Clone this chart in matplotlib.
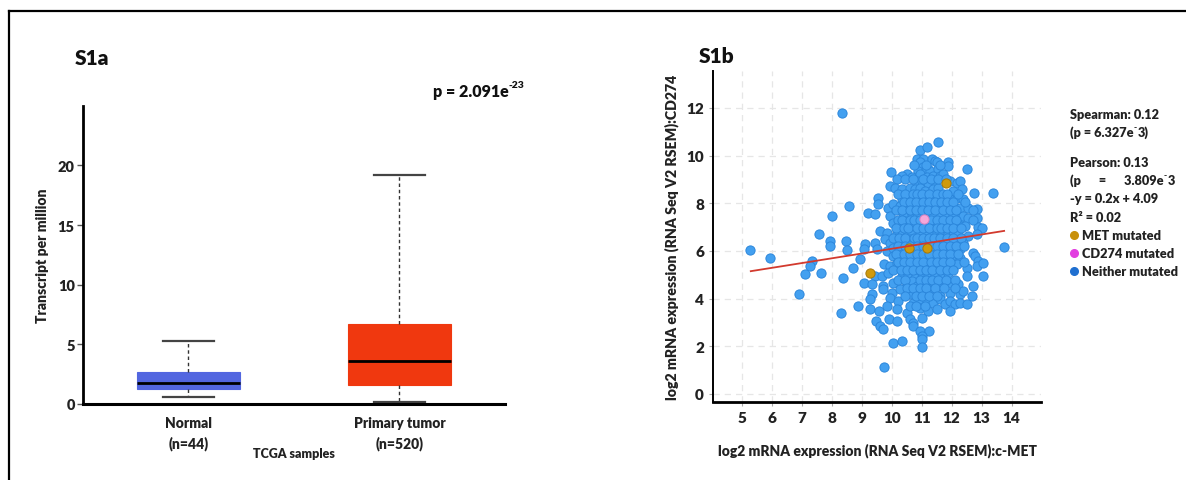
"""Supplementary figure S1: CD274 / c-MET expression panels."""

import matplotlib

matplotlib.use("Agg")
import matplotlib.pyplot as plt
import numpy as np
from matplotlib.lines import Line2D

# ---- S1a: box plot summary (transcripts per million) ----
groups = ["Normal\n(n=44)", "Primary tumor\n(n=520)"]
box_low = [0.61, 0.14]
box_q1 = [1.26, 1.62]
box_med = [1.73, 3.57]
box_q3 = [2.65, 6.69]
box_high = [5.25, 19.19]
box_colors = ["#5266e0", "#f0380f"]

# ---- S1b: c-MET (x) vs CD274 (y), log2 RSEM ----
neither_pts = [
    (11.56, 10.59), (10.94, 10.24), (11.17, 10.34),
    (10.83, 9.85), (11.03, 9.85), (10.94, 9.71), (11.33, 9.85), (11.44, 9.78), (11.50, 9.71), (11.89, 9.71),
    (11.06, 9.50), (11.22, 9.43), (10.89, 9.36), (11.11, 9.29), (11.87, 9.57), (12.50, 9.45), (11.28, 9.36),
    (11.56, 9.43),
    (9.97, 9.29), (10.50, 9.22), (10.33, 9.15), (10.67, 9.08), (10.94, 9.22), (11.17, 9.08), (11.39, 9.15),
    (11.61, 9.15), (11.72, 9.22),
    (10.17, 9.01), (10.83, 8.94), (11.00, 8.94), (11.22, 8.87), (11.44, 8.94), (11.94, 8.94), (12.17, 8.87),
    (12.28, 8.94),
    (9.94, 8.73), (10.11, 8.66), (10.33, 8.59), (10.61, 8.66), (10.78, 8.59), (10.94, 8.66), (11.11, 8.52),
    (11.39, 8.59), (11.56, 8.66), (12.06, 8.52), (12.33, 8.59), (12.74, 8.45), (13.39, 8.45),
    (9.56, 8.24), (10.33, 8.17), (10.50, 8.31), (10.67, 8.24), (10.83, 8.17), (10.94, 8.31), (11.17, 8.24),
    (11.33, 8.17), (11.50, 8.31), (11.72, 8.24), (11.94, 8.17), (12.17, 8.24), (12.39, 8.17),
    (8.56, 7.89), (9.56, 7.96), (9.89, 7.82), (10.06, 7.96), (10.28, 7.89), (10.57, 7.82), (10.72, 7.96),
    (10.94, 7.89), (11.11, 7.82), (11.33, 7.96), (11.50, 7.89), (11.61, 7.82), (11.83, 7.96), (12.06, 7.89),
    (12.28, 7.82), (12.56, 7.82), (12.83, 7.75),
    (8.02, 7.47), (9.22, 7.61), (9.44, 7.54), (9.94, 7.47), (10.39, 7.61), (10.50, 7.47), (10.67, 7.54),
    (10.83, 7.61), (11.22, 7.54), (11.39, 7.47), (11.61, 7.61), (11.83, 7.54), (12.06, 7.47), (12.28, 7.40),
    (12.39, 7.47), (12.56, 7.40), (12.83, 7.40),
    (10.06, 7.19), (10.28, 7.12), (10.44, 7.26), (10.61, 7.05), (10.78, 7.19), (10.94, 7.12), (11.17, 7.26),
    (11.39, 7.05), (11.56, 7.19), (11.72, 7.12), (11.94, 7.05), (12.17, 7.19), (12.44, 7.05), (12.89, 7.00),
    (13.00, 6.98),
    (7.58, 6.70), (9.61, 6.84), (9.83, 6.77), (10.17, 6.70), (10.33, 6.84), (10.50, 6.63), (10.67, 6.77),
    (10.94, 6.70), (11.17, 6.84), (11.33, 6.63), (11.50, 6.77), (11.67, 6.70), (11.83, 6.63), (12.06, 6.84),
    (12.22, 6.70), (12.56, 6.63), (12.83, 6.70),
    (7.94, 6.42), (8.47, 6.42), (9.11, 6.28), (9.44, 6.35), (9.78, 6.49), (9.94, 6.35), (10.17, 6.42),
    (10.39, 6.28), (10.61, 6.49), (10.83, 6.35), (11.06, 6.42), (11.28, 6.28), (11.50, 6.49), (11.72, 6.35),
    (11.94, 6.42), (12.17, 6.28), (12.39, 6.35),
    (5.28, 6.04), (5.94, 5.72), (7.94, 6.21), (8.50, 6.04), (9.06, 6.07), (9.50, 6.07), (9.83, 6.00),
    (10.06, 6.14), (10.28, 5.93), (10.72, 6.00), (10.94, 5.93), (11.39, 6.07), (11.61, 5.93), (11.83, 6.14),
    (12.06, 5.93), (12.28, 6.07), (12.72, 5.93), (13.74, 6.18),
    (7.33, 5.58), (8.94, 5.65), (10.06, 5.79), (10.28, 5.65), (10.50, 5.72), (10.72, 5.58), (10.94, 5.79),
    (11.17, 5.65), (11.39, 5.72), (11.61, 5.58), (11.83, 5.79), (12.06, 5.65), (12.28, 5.72), (12.78, 5.79),
    (12.89, 5.58),
    (7.26, 5.35), (8.70, 5.30), (9.76, 5.44), (9.94, 5.37), (10.17, 5.51), (10.39, 5.30), (10.61, 5.44),
    (10.83, 5.37), (11.06, 5.51), (11.28, 5.30), (11.50, 5.44), (11.72, 5.37), (11.94, 5.30), (12.17, 5.44),
    (12.50, 5.30), (12.83, 5.37), (13.06, 5.48),
    (7.11, 5.02), (7.64, 5.09), (8.39, 4.88), (9.44, 4.95), (9.67, 4.95), (9.89, 5.09), (10.33, 4.95),
    (10.56, 5.02), (10.78, 4.88), (11.00, 5.09), (11.22, 4.95), (11.44, 5.02), (11.67, 4.88), (11.89, 5.09),
    (12.50, 4.95), (13.06, 4.95),
    (9.08, 4.67), (9.33, 4.60), (9.72, 4.53), (10.06, 4.67), (10.50, 4.60), (10.67, 4.74), (10.83, 4.53),
    (11.06, 4.67), (11.28, 4.60), (11.56, 4.53), (11.94, 4.67), (12.22, 4.60), (12.72, 4.53),
    (6.92, 4.20), (9.33, 4.18), (9.72, 4.39), (10.00, 4.25), (10.28, 4.39), (10.61, 4.18), (10.83, 4.32),
    (11.06, 4.25), (11.28, 4.39), (11.61, 4.11), (11.94, 4.25), (12.28, 4.18), (12.39, 4.32), (12.67, 4.11),
    (9.28, 3.97), (9.94, 4.04), (10.22, 3.90), (10.72, 3.83), (10.94, 3.97), (11.17, 3.90), (11.39, 3.83),
    (11.61, 3.97), (11.78, 3.76), (11.94, 3.90), (12.11, 3.76), (12.28, 3.83), (12.50, 3.76),
    (8.31, 3.41), (8.87, 3.69), (9.28, 3.55), (9.59, 3.48), (9.83, 3.69), (10.17, 3.55), (10.50, 3.41),
    (10.94, 3.62), (11.22, 3.48), (11.50, 3.55), (11.94, 3.48),
    (9.47, 3.06), (9.92, 3.13), (10.17, 3.06), (10.61, 3.13), (10.72, 2.99), (11.00, 3.20),
    (9.61, 2.85), (9.70, 2.71), (10.72, 2.85), (10.94, 2.64), (11.24, 2.64),
    (10.06, 2.15), (10.33, 2.22), (11.00, 2.43), (11.02, 2.29), (11.00, 1.99), (9.76, 1.15), (8.35, 11.80),
    # dense core, overlapping points
    (10.75, 9.60), (11.15, 9.60), (11.60, 9.60),
    (10.45, 9.00), (10.70, 9.00), (11.05, 9.00), (11.30, 9.00), (11.55, 9.00), (11.80, 9.00),
    (10.20, 8.40), (10.45, 8.40), (10.70, 8.40), (10.85, 8.40), (11.00, 8.40), (11.25, 8.40), (11.50, 8.40),
    (11.70, 8.40), (11.85, 8.40), (12.20, 8.40),
    (10.40, 8.05), (10.60, 8.05), (10.80, 8.05), (11.05, 8.05), (11.25, 8.05), (11.45, 8.05), (11.65, 8.05),
    (11.85, 8.05), (12.05, 8.05), (12.45, 8.05),
    (10.15, 7.70), (10.35, 7.70), (10.60, 7.70), (10.80, 7.70), (11.00, 7.70), (11.20, 7.70), (11.45, 7.70),
    (11.70, 7.70), (11.95, 7.70), (12.15, 7.70), (12.70, 7.70),
    (10.20, 7.30), (10.35, 7.30), (10.60, 7.30), (10.75, 7.30), (10.95, 7.30), (11.30, 7.30), (11.50, 7.30),
    (11.70, 7.30), (11.95, 7.30), (12.15, 7.30), (12.70, 7.30),
    (10.15, 6.95), (10.40, 6.95), (10.55, 6.95), (10.85, 6.95), (11.05, 6.95), (11.25, 6.95), (11.50, 6.95),
    (11.65, 6.95), (11.85, 6.95), (12.05, 6.95), (12.30, 6.95),
    (10.05, 6.55), (10.25, 6.55), (10.45, 6.55), (10.75, 6.55), (10.85, 6.55), (11.05, 6.55), (11.25, 6.55),
    (11.40, 6.55), (11.60, 6.55), (11.85, 6.55), (12.05, 6.55), (12.30, 6.55),
    (10.20, 6.20), (10.45, 6.20), (10.60, 6.20), (10.85, 6.20), (11.05, 6.20), (11.30, 6.20), (11.50, 6.20),
    (11.70, 6.20), (11.95, 6.20), (12.15, 6.20), (12.40, 6.20),
    (10.15, 5.85), (10.40, 5.85), (10.60, 5.85), (10.85, 5.85), (11.05, 5.85), (11.25, 5.85), (11.50, 5.85),
    (11.70, 5.85), (11.95, 5.85), (12.20, 5.85),
    (10.20, 5.55), (10.40, 5.55), (10.60, 5.55), (10.85, 5.55), (11.05, 5.55), (11.30, 5.55), (11.50, 5.55),
    (11.70, 5.55), (11.95, 5.55), (12.40, 5.55),
    (10.05, 5.20), (10.30, 5.20), (10.50, 5.20), (10.70, 5.20), (10.95, 5.20), (11.15, 5.20), (11.35, 5.20),
    (11.60, 5.20), (11.85, 5.20), (12.05, 5.20),
    (10.20, 4.80), (10.45, 4.80), (10.95, 4.80), (11.15, 4.80), (11.35, 4.80), (11.55, 4.80), (11.80, 4.80),
    (12.10, 4.80),
    (10.50, 4.45), (10.70, 4.45), (10.95, 4.45), (11.15, 4.45), (11.45, 4.45), (11.75, 4.45), (12.10, 4.45),
    (10.45, 4.10), (10.80, 4.10), (11.00, 4.10), (11.25, 4.10), (11.50, 4.10),
    (10.60, 3.70), (10.80, 3.70), (11.10, 3.70),
]
met_mutated_x = [9.27, 10.57, 11.19, 11.82]
met_mutated_y = [5.09, 6.11, 6.11, 8.83]
cd274_mutated_x = [11.08]
cd274_mutated_y = [7.36]
fit_slope, fit_intercept = 0.2, 4.09
fit_range = [5.3, 13.75]

spearman_lines = ["Spearman: 0.12", "(p = 6.327e", "3)"]
pearson_lines = ["Pearson: 0.13", "(p      =      3.809e", "3", "-y = 0.2x + 4.09", "R\u00b2 = 0.02"]
legend_names = ["MET mutated", "CD274 mutated", "Neither mutated"]
legend_colors = ["#c8900a", "#e23ee0", "#1f6fd0"]

FONT = "Lato"
TXT = "#222222"
WEIGHT = "heavy"

plt.rcParams.update(
    {
        "font.family": [FONT, "DejaVu Sans"],
        "font.weight": WEIGHT,
        "axes.labelweight": WEIGHT,
        "text.color": TXT,
        "axes.labelcolor": TXT,
        "xtick.color": TXT,
        "ytick.color": TXT,
    }
)

fig = plt.figure(figsize=(11.86, 4.81), dpi=100)
W, H = 1186, 481


def px(x0, y0, x1, y1):
    return [x0 / W, 1 - y1 / H, (x1 - x0) / W, (y1 - y0) / H]


def fy(y):
    return 1 - y / H


# outer frame (only top and left edges are visible)
fig.add_artist(Line2D([9 / W, 1.0], [fy(12), fy(12)], color="black", lw=1.6))
fig.add_artist(Line2D([9 / W, 9 / W], [0, fy(12)], color="black", lw=1.6))

# ---------------- S1a ----------------
ax1 = fig.add_axes(px(83, 106.7, 505, 405))
stats = [
    {"whislo": lo, "q1": q1, "med": m, "q3": q3, "whishi": hi, "label": g}
    for g, lo, q1, m, q3, hi in zip(groups, box_low, box_q1, box_med, box_q3, box_high)
]
bp = ax1.bxp(
    stats,
    positions=[1, 2],
    widths=0.49,
    capwidths=0.24,
    showfliers=False,
    patch_artist=True,
    medianprops={"color": "black", "lw": 2.0},
    whiskerprops={"color": "#333333", "lw": 1.0, "linestyle": (0, (2.5, 2))},
    capprops={"color": "#444444", "lw": 1.6},
)
for patch, c in zip(bp["boxes"], box_colors):
    patch.set_facecolor(c)
    patch.set_edgecolor(c)
    patch.set_linewidth(0.8)

ax1.set_xlim(0.5, 2.5)
ax1.set_ylim(0, 25)
ax1.set_yticks([0, 5, 10, 15, 20])
for side in ("top", "right"):
    ax1.spines[side].set_visible(False)
ax1.spines["left"].set_linewidth(2.0)
ax1.spines["bottom"].set_linewidth(2.2)
ax1.tick_params(axis="y", length=4, width=1, labelsize=10.5, color="#555555", pad=2)
ax1.tick_params(axis="x", length=0, labelsize=10, pad=9)
for lab in ax1.get_xticklabels():
    lab.set_linespacing(1.5)
ax1.set_ylabel("Transcript per million", fontsize=10, labelpad=6)
ax1.text(0.5, -0.165, "TCGA samples", transform=ax1.transAxes, ha="center", va="center", fontsize=9)
ptxt = ax1.text(2.157, 26.25, "p = 2.091e", ha="left", va="center", fontsize=11.5, color="#111111")
ax1.annotate("-23", xy=(1.0, 0.92), xycoords=ptxt, ha="left", va="center", fontsize=7.5, color="#111111")
ax1.text(-0.02, 1.16, "S1a", transform=ax1.transAxes, fontsize=15, color="#111111", ha="left", va="center")

# ---------------- S1b ----------------
ax2 = fig.add_axes(px(713, 71.7, 1041, 403.3))
pts = np.array(neither_pts)
ax2.scatter(pts[:, 0], pts[:, 1], s=44, facecolor="#43a0f0", edgecolor="#2c87dc", linewidth=0.7, zorder=3)
ax2.scatter(met_mutated_x, met_mutated_y, s=44, facecolor="#d09a0c", edgecolor="#a67808", linewidth=0.7, zorder=4)
ax2.scatter(cd274_mutated_x, cd274_mutated_y, s=44, facecolor="#f5a7da", edgecolor="#d983c0", linewidth=0.7,
            zorder=4)
fx = np.array(fit_range)
ax2.plot(fx, fit_slope * fx + fit_intercept, color="#d23a2e", lw=1.3, zorder=5)

ax2.set_xlim(4.04, 14.98)
ax2.set_ylim(-0.35, 13.56)
ax2.set_xticks(range(5, 15))
ax2.set_yticks(range(0, 13, 2))
ax2.grid(True, color="#e6e6e6", linestyle=(0, (5, 4)), lw=0.9, zorder=0)
for side in ("top", "right"):
    ax2.spines[side].set_visible(False)
ax2.spines["left"].set_linewidth(1.4)
ax2.spines["bottom"].set_linewidth(2.0)
ax2.tick_params(axis="both", length=3, width=0.8, color="#aaaaaa", labelsize=11, labelcolor="#222222")
ax2.set_xlabel("log2 mRNA expression (RNA Seq V2 RSEM):c-MET", fontsize=10, labelpad=13)
ax2.set_ylabel("log2 mRNA expression (RNA Seq V2 RSEM):CD274", fontsize=10.2, labelpad=5)
ax2.text(-0.045, 1.045, "S1b", transform=ax2.transAxes, fontsize=15, color="#111111", ha="left", va="center")

# ---- right-hand statistics / legend ----
x0 = 1070 / W
fs = 9.2


def sup_tail(base, tail):
    # tiny raised minus sign followed by the exponent digits
    m = ax2.annotate("-", xy=(1.0, 0.95), xycoords=base, ha="left", va="center", fontsize=6,
                     annotation_clip=False)
    ax2.annotate(tail, xy=(1.0, 0.5), xycoords=base, xytext=(3, 0), textcoords="offset points",
                 ha="left", va="center", fontsize=fs, annotation_clip=False)
    return m


fig.text(x0, fy(115), spearman_lines[0], fontsize=fs, va="center")
sp = fig.text(x0, fy(133), spearman_lines[1], fontsize=fs, va="center")
sup_tail(sp, spearman_lines[2])
fig.text(x0, fy(163), pearson_lines[0], fontsize=fs, va="center")
pp = fig.text(x0, fy(181), pearson_lines[1], fontsize=fs, va="center")
sup_tail(pp, pearson_lines[2])
fig.text(x0, fy(199), pearson_lines[3], fontsize=fs, va="center")
fig.text(x0, fy(218), pearson_lines[4], fontsize=fs, va="center")

for i, (name, col) in enumerate(zip(legend_names, legend_colors)):
    yy = fy(236 + 18 * i)
    fig.add_artist(Line2D([1074 / W], [yy], marker="o", markersize=5.5, color=col, linestyle="none"))
    fig.text(1082 / W, yy, name, fontsize=fs, va="center")

fig.savefig("out.png", dpi=100)
